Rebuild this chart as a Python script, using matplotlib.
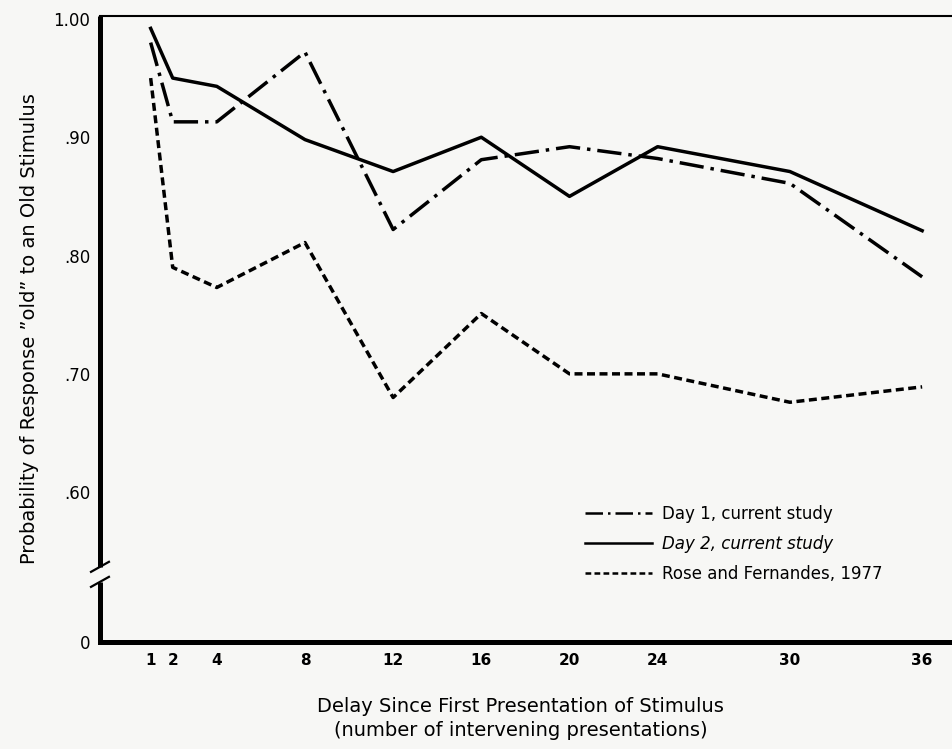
import matplotlib
matplotlib.use('Agg')
import matplotlib.pyplot as plt

# Delay (number of intervening presentations)
delays = [1, 2, 4, 8, 12, 16, 20, 24, 30, 36]

# Probability of responding "old" to an old stimulus
day1 = [0.980, 0.913, 0.913, 0.972, 0.822, 0.881, 0.892, 0.882, 0.861, 0.782]
day2 = [0.992, 0.950, 0.943, 0.898, 0.871, 0.900, 0.850, 0.892, 0.871, 0.821]
rose = [0.950, 0.790, 0.773, 0.811, 0.680, 0.751, 0.700, 0.700, 0.676, 0.689]

labels = ['Day 1, current study', 'Day 2, current study', 'Rose and Fernandes, 1977']

ytick_vals = [0.6, 0.7, 0.8, 0.9, 1.0]
ytick_labels = ['.60', '.70', '.80', '.90', '1.00']

plt.rcParams['font.family'] = ['DejaVu Sans']
paper = '#f7f7f5'

fig = plt.figure(figsize=(9.53, 7.49), dpi=100, facecolor=paper)
ax = fig.add_axes([0.1049, 0.1429, 0.8951, 0.8358], facecolor=paper)

ax.plot(delays, day1, color='black', lw=2.5, linestyle=(0, (7, 2, 1, 2)), label=labels[0])
ax.plot(delays, day2, color='black', lw=2.5, linestyle='-', label=labels[1])
ax.plot(delays, rose, color='black', lw=2.5, linestyle=(0, (2.3, 1.3)), label=labels[2])

ymin = 0.4734
ax.set_xlim(-1.3, 37.4)
ax.set_ylim(ymin, 1.0025)

ax.set_xticks(delays)
ax.set_xticklabels([str(d) for d in delays], fontsize=11, fontweight='bold')
ax.set_yticks([ymin] + ytick_vals)
ax.set_yticklabels(['0'] + ytick_labels, fontsize=12)
ax.tick_params(axis='both', length=0)
ax.tick_params(axis='y', pad=7)
ax.tick_params(axis='x', pad=8)

# frame: thin top line, heavy bottom axis, broken left axis
ax.spines['right'].set_visible(False)
ax.spines['left'].set_visible(False)
ax.spines['top'].set_linewidth(1.5)
ax.spines['bottom'].set_linewidth(3.6)

brk_hi, brk_lo = 0.12, 0.096
ax.plot([0, 0], [brk_hi, 1.0], transform=ax.transAxes, color='black', lw=3.6,
        clip_on=False, solid_capstyle='butt')
ax.plot([0, 0], [0, brk_lo], transform=ax.transAxes, color='black', lw=3.6,
        clip_on=False, solid_capstyle='butt')
for yb in (brk_hi, brk_lo):
    ax.plot([-0.0105, 0.0105], [yb - 0.008, yb + 0.008], transform=ax.transAxes,
            color='black', lw=1.6, clip_on=False)

ax.set_ylabel('Probability of Response \u201dold\u201d to an Old Stimulus', fontsize=14)
ax.yaxis.set_label_coords(-0.0715, 0.5)
ax.set_xlabel('Delay Since First Presentation of Stimulus\n(number of intervening presentations)',
              fontsize=14, linespacing=1.35)
ax.xaxis.set_label_coords(0.493, -0.088)

leg = ax.legend(loc='upper left', bbox_to_anchor=(0.5686, 0.219), frameon=False,
                fontsize=12, handlelength=4.0, handletextpad=0.6, labelspacing=0.72,
                borderpad=0, borderaxespad=0)
for line in leg.get_lines():
    line.set_linewidth(1.8)
leg.get_texts()[1].set_fontstyle('italic')

fig.savefig('out.png', dpi=100, facecolor=paper)
